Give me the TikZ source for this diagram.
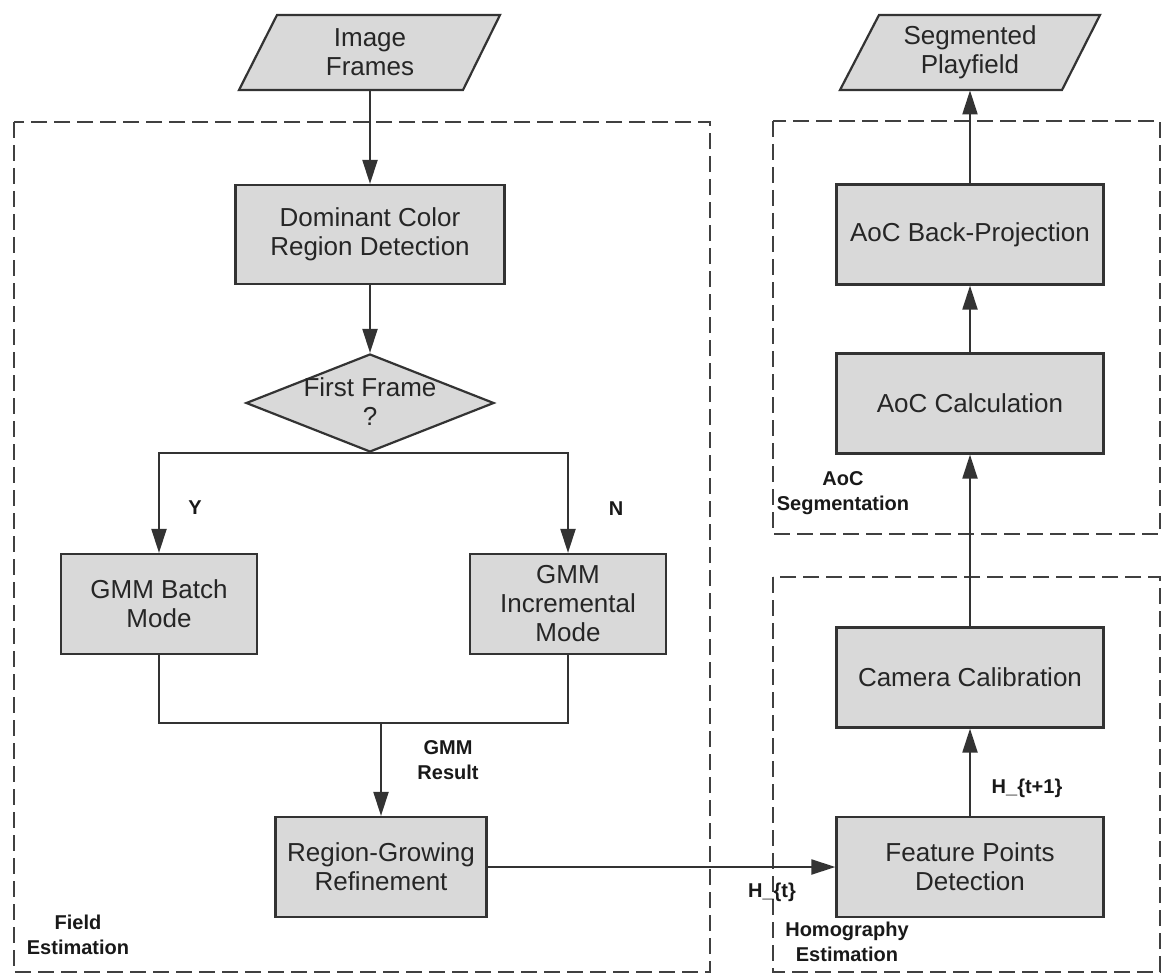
\documentclass[tikz,border=0pt]{standalone}
\usepackage{fontspec}
\setmainfont{Liberation Sans}
\usetikzlibrary{arrows.meta,shapes.geometric}

\begin{document}
\begin{tikzpicture}[x=0.5pt,y=-0.5pt,
  boxfont/.style={font=\fontsize{13}{14.5}\selectfont},
  proc/.style={rectangle, draw=black!80, line width=1.1pt, fill=gray!30,
    text=black!85, boxfont, align=center, inner sep=0pt,
    minimum width=133.5pt, minimum height=50pt},
  iobox/.style={draw=black!80, line width=1.1pt, fill=gray!30, line join=miter},
  iotxt/.style={text=black!85, boxfont, align=center, inner sep=0pt,
    minimum width=111pt, minimum height=37.5pt},
  decision/.style={diamond, draw=black!80, line width=1.1pt, fill=gray!30,
    inner sep=0pt, minimum width=124pt, minimum height=49pt},
  region/.style={draw=black!75, line width=1.2pt, dash pattern=on 8pt off 3.5pt},
  lbl/.style={font=\bfseries\fontsize{10}{12.5}\selectfont, text=black!90,
    align=center, inner sep=0pt},
  link/.style={draw=black!80, line width=1pt},
  arr/.style={link, -{Triangle[length=12pt,width=7.5pt]}}
]
\fill[white] (0,0) rectangle (1163,974);
\useasboundingbox (0,0) rectangle (1163,974);

% dashed stage regions
\draw[region] (14,122) rectangle (710,972);
\draw[region] (773,121) rectangle (1160,534);
\draw[region] (773,577) rectangle (1160,972);

% input / output parallelograms
\path[iobox] (277,15) -- (500,15) -- (463,90) -- (239,90) -- cycle;
\node[iotxt] (imf) at (370,52.5) {Image\\Frames};
\path[iobox] (879,15) -- (1100,15) -- (1062,90) -- (840,90) -- cycle;
\node[iotxt] (sp) at (970,52.5) {Segmented\\Playfield};

% field estimation
\node[proc, minimum width=134.5pt, minimum height=49.5pt] (dom) at (370,234.5) {Dominant Color\\Region Detection};
\node[decision] (dia) at (370,403) {};
\node[text=black!85, boxfont, align=center, inner sep=0pt] (diatxt) at (370,402) {First Frame\\?};
\node[proc, minimum width=98pt] (batch) at (159,604) {GMM Batch\\Mode};
\node[proc, minimum width=98pt] (inc) at (568,604) {GMM\\Incremental\\Mode};
\coordinate (merge) at (381,723);
\node[proc, minimum width=105.5pt] (rg) at (381,867) {Region-Growing\\Refinement};

% homography estimation and AoC segmentation
\node[proc] (fp) at (970,867) {Feature Points\\Detection};
\node[proc] (cc) at (970,677.5) {Camera Calibration};
\node[proc] (calc) at (970,403.5) {AoC Calculation};
\node[proc] (bp) at (970,234.5) {AoC Back-Projection};

% connectors
\draw[arr] (imf) -- (dom);
\draw[arr] (dom) -- (dia);
\draw[arr] (dia.south) -| (batch.north);
\draw[arr] (dia.south) -| (inc.north);
\draw[link] (batch.south) |- (merge);
\draw[link] (inc.south) |- (merge);
\draw[arr] (merge) -- (rg.north);
\draw[arr] (rg) -- (fp);
\draw[arr] (fp) -- (cc);
\draw[arr] (cc) -- (calc);
\draw[arr] (calc) -- (bp);
\draw[arr] (bp) -- (sp);

% labels
\node[lbl] (ylab) at (195,508) {Y};
\node[lbl] (nlab) at (616,509) {N};
\node[lbl] (gmmres) at (448,760) {GMM\\Result};
\node[lbl] (ht) at (772,892) {H\_\{t\}};
\node[lbl] (ht1) at (1027,788) {H\_\{t+1\}};
\node[lbl] (fieldlab) at (78,935) {Field\\Estimation};
\node[lbl] (aoclab) at (843,493) {AoC\\Segmentation};
\node[lbl] (homlab) at (847,942) {Homography\\Estimation};
\end{tikzpicture}
\end{document}
